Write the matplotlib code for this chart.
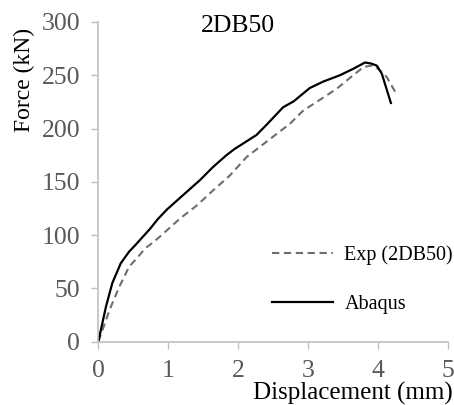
import matplotlib
matplotlib.use("Agg")
import matplotlib.pyplot as plt

abaqus_d = [0, 0.11, 0.2, 0.32, 0.44, 0.52, 0.63, 0.74, 0.85, 0.98, 1.21, 1.45, 1.64, 1.83,
            1.95, 2.07, 2.26, 2.41, 2.64, 2.79, 3.02, 3.21, 3.45, 3.64, 3.81, 3.9, 3.98,
            4.05, 4.18]
abaqus_f = [0, 33, 55, 73.5, 84.5, 90, 98, 106, 115, 124, 137.5, 151.5, 164, 175,
            181, 186, 194, 204, 220, 225.5, 238, 244, 250, 256, 262, 261, 259,
            251.5, 224]

exp_d = [0, 0.06, 0.16, 0.3, 0.44, 0.59, 0.67, 0.8, 0.93, 1.17, 1.41, 1.64, 1.88, 2.12,
         2.41, 2.74, 2.93, 3.12, 3.41, 3.64, 3.79, 3.93, 4.0, 4.12, 4.25]
exp_f = [0, 11, 29.7, 51.6, 70.3, 81.3, 87.6, 94, 101.6, 115.7, 128, 142, 156, 173.4,
         188, 204.7, 217, 225, 237.6, 250, 257.8, 259.4, 256, 248.4, 233.4]

x_ticks = [0, 1, 2, 3, 4, 5]
y_ticks = [0, 50, 100, 150, 200, 250, 300]

plt.rcParams['font.family'] = ['Liberation Serif', 'DejaVu Serif']

fig = plt.figure(figsize=(4.54, 4.05), dpi=100)
ax = fig.add_axes([98.3 / 454, 1 - 341.7 / 405, 350 / 454, (341.7 - 22) / 405])

ax.plot(exp_d, exp_f, color='#6e6e6e', lw=1.5, linestyle=(0, (3.5, 2.2)), label='Exp (2DB50)')
ax.plot(abaqus_d, abaqus_f, color='black', lw=1.6, label='Abaqus')

ax.set_xlim(0, 5)
ax.set_ylim(0, 300)
ax.set_xticks(x_ticks)
ax.set_yticks(y_ticks)

for s in ['top', 'right']:
    ax.spines[s].set_visible(False)
for s in ['left', 'bottom']:
    ax.spines[s].set_color('#bfbfbf')
    ax.spines[s].set_linewidth(1.2)

ax.tick_params(axis='both', direction='out', length=5, width=1.0, color='#bfbfbf',
               labelcolor='#595959', labelsize=18.5, pad=8)

fig.text(238 / 454, 1 - 26 / 405, '2DB50', ha='center', va='center', fontsize=18.5, color='black')
fig.text(24 / 454, 1 - 80 / 405, 'Force (kN)', ha='center', va='center', rotation=90,
         fontsize=17, color='black')
fig.text(453 / 454, 1 - 393 / 405, 'Displacement (mm)', ha='right', va='center',
         fontsize=18, color='black')

leg = ax.legend(loc='upper left', bbox_to_anchor=(272 / 454, 1 - 245 / 405),
                bbox_transform=fig.transFigure, frameon=False, fontsize=14.5,
                handlelength=3.05, handletextpad=0.55, labelspacing=1.5,
                borderpad=0, borderaxespad=0)

fig.savefig('out.png', dpi=100)
